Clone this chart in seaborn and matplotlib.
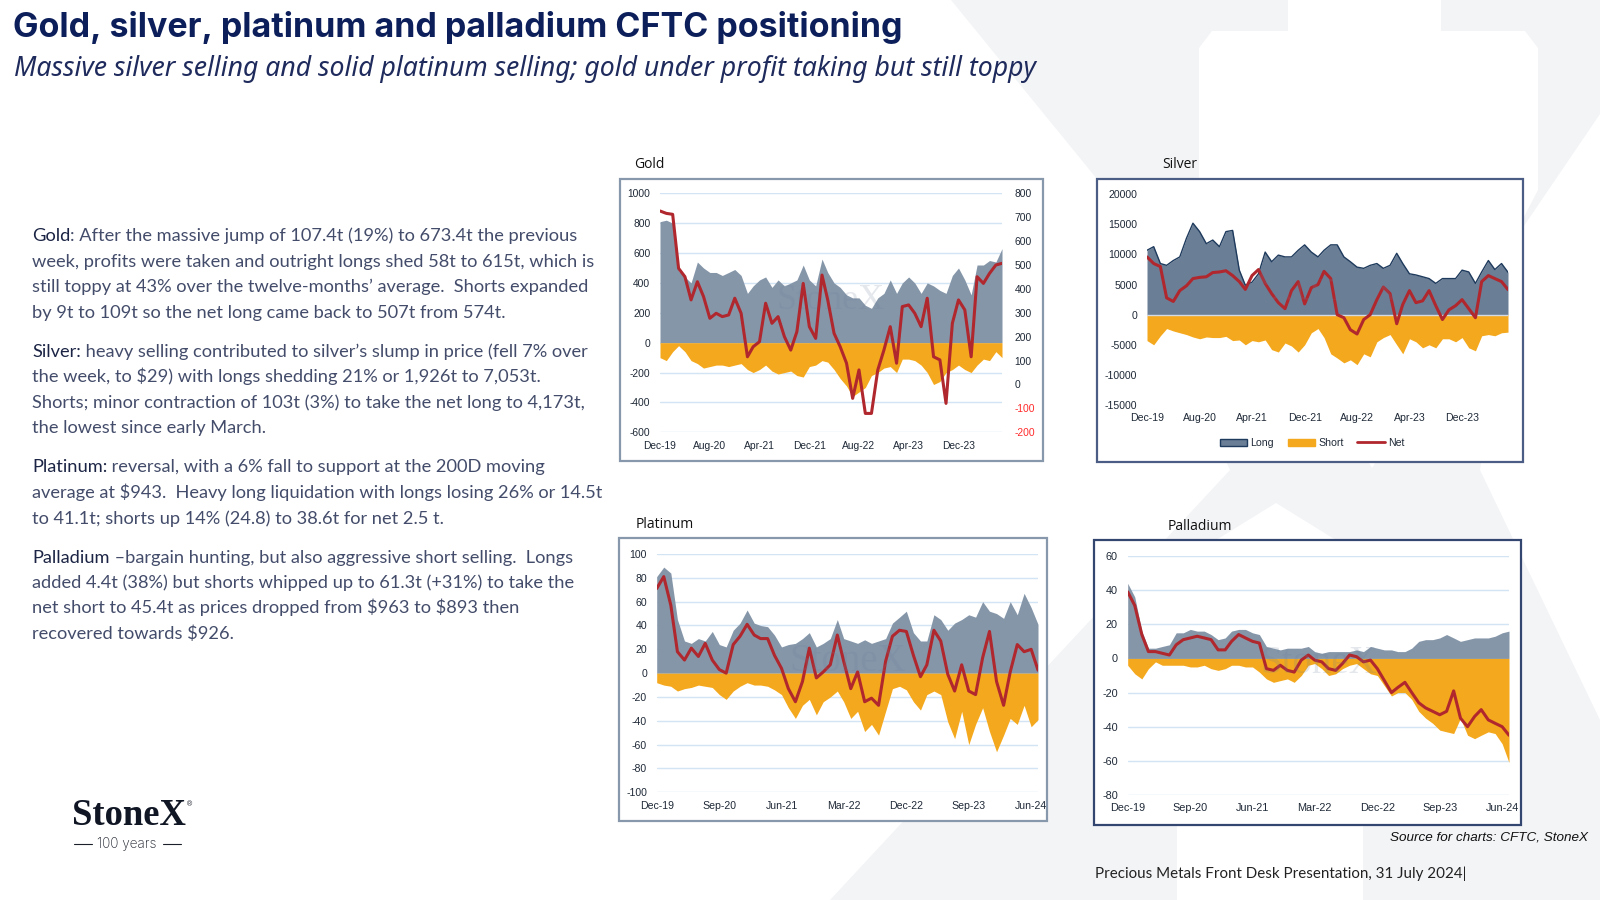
import numpy as np
import pandas as pd
import matplotlib
matplotlib.use("Agg")
import matplotlib.pyplot as plt
import seaborn as sns
from matplotlib.patches import Polygon, Rectangle, Patch
from matplotlib.lines import Line2D

# ---------------- data (monthly, Dec-19 .. Jul-24) ----------------
dates = pd.date_range("2019-12-01", periods=56, freq="MS")

gold_long = [810, 820, 800, 480, 440, 400, 540, 500, 470, 470,
             450, 470, 490, 450, 330, 380, 420, 440, 370, 420,
             380, 400, 420, 520, 420, 380, 560, 470, 400, 370,
             320, 300, 300, 250, 230, 300, 330, 420, 330, 400,
             440, 400, 330, 400, 380, 350, 330, 450, 500, 420,
             320, 520, 520, 550, 540, 630]
gold_short = [-100, -120, -60, -20, -60, -120, -140, -170, -160, -150,
              -150, -160, -150, -140, -180, -200, -180, -150, -190, -210,
              -200, -190, -220, -230, -160, -150, -120, -130, -180, -240,
              -290, -360, -330, -300, -220, -200, -170, -160, -200, -110,
              -110, -120, -150, -200, -280, -260, -200, -180, -150, -180,
              -200, -150, -110, -120, -60, -100]
gold_net = [726, 716, 712, 486, 451, 354, 430, 368, 277, 298,
            284, 291, 361, 298, 116, 158, 179, 340, 256, 284,
            200, 144, 221, 423, 242, 193, 458, 354, 214, 158,
            89, -58, 61, -121, -121, 61, 144, 242, 89, 326,
            333, 298, 242, 361, 116, 103, -79, 256, 354, 312,
            116, 451, 423, 465, 500, 507]

silver_long = [10700, 11300, 8500, 8200, 9000, 9600, 12700, 15200, 13800, 11800,
               12400, 11300, 13800, 14000, 7400, 4900, 5400, 6800, 10400, 8800,
               9900, 9600, 9600, 10700, 11600, 10400, 9600, 10700, 11600, 11600,
               9600, 8800, 7900, 7700, 8200, 8500, 7700, 8200, 10200, 8500,
               6800, 6600, 6300, 6000, 5200, 6000, 6000, 6000, 7400, 7100,
               5200, 7100, 9000, 7500, 8500, 7053]
silver_short = [-4300, -5000, -3500, -2300, -2700, -3000, -3300, -3700, -4000, -3700,
                -3800, -3800, -3600, -4300, -4200, -5000, -4300, -4500, -4200, -5800,
                -6200, -4700, -5200, -6200, -5000, -3000, -2300, -3800, -6500, -7200,
                -8000, -7500, -8300, -6500, -7000, -4500, -3800, -3300, -5000, -6500,
                -4000, -4500, -5500, -5000, -5500, -4000, -4000, -4500, -3800, -5500,
                -6000, -3500, -3300, -3500, -3000, -2900]
silver_net = [9600, 8500, 8000, 2800, 2200, 4000, 4800, 6000, 6200, 6300,
              7000, 7100, 7300, 6500, 5500, 4200, 6500, 7500, 5200, 3500,
              2000, 1000, 4000, 5500, 1800, 4500, 5000, 7200, 6000, 0,
              -500, -2500, -3200, -800, 0, 2500, 4600, 3500, -1500, 1700,
              4000, 2000, 2300, 4000, 1500, -800, 800, 1500, 2500, 1000,
              -500, 5500, 6500, 6000, 5500, 4173]

plat_long = [81, 89, 84, 45, 27, 25, 29, 27, 35, 24,
             22, 36, 42, 53, 42, 40, 39, 32, 22, 24,
             25, 29, 34, 22, 25, 29, 45, 29, 27, 25,
             28, 25, 27, 29, 42, 47, 52, 34, 27, 27,
             49, 45, 36, 42, 45, 49, 47, 60, 52, 50,
             46, 60, 49, 67, 55, 41]
plat_short = [-8, -10, -11, -15, -13, -12, -10, -11, -12, -18,
              -22, -15, -11, -8, -10, -10, -11, -14, -18, -29,
              -38, -27, -22, -35, -24, -20, -15, -24, -38, -32,
              -49, -43, -52, -32, -13, -11, -14, -24, -31, -18,
              -15, -18, -41, -55, -32, -60, -43, -29, -49, -66,
              -52, -38, -43, -27, -45, -39]
plat_net = [71, 81, 57, 18, 11, 21, 14, 25, 11, 3,
            0, 24, 31, 41, 32, 29, 29, 15, 4, -13,
            -24, -7, 21, -4, 1, 7, 32, 10, -13, 1,
            -24, -21, -27, 10, 31, 36, 35, 15, -3, 7,
            36, 27, -1, -15, 7, -15, -18, 13, 35, -7,
            -27, 1, 24, 18, 20, 2.5]

pall_long = [44, 36, 16, 6, 6, 7, 8, 15, 15, 17,
             16, 16, 14, 11, 12, 16, 17, 17, 15, 14,
             7, 6, 5, 6, 6, 6, 7, 4, 3, 4,
             4, 4, 4, 5, 4, 7, 6, 5, 5, 4,
             4, 6, 10, 11, 11, 12, 14, 12, 10, 11,
             12, 12, 12, 13, 15, 16]
pall_short = [-4, -9, -12, -6, -2, -4, -4, -4, -4, -5,
              -5, -4, -6, -7, -6, -4, -4, -5, -5, -8,
              -12, -14, -13, -12, -14, -10, -4, -3, -6, -10,
              -9, -6, -4, -3, -6, -9, -10, -16, -22, -20,
              -20, -24, -31, -35, -38, -42, -43, -44, -35, -45,
              -47, -45, -43, -44, -50, -61]
pall_net = [39, 31, 14, 4, 4, 3, 2, 8, 11, 12,
            13, 12, 11, 5, 5, 10, 14, 12, 10, 9,
            -6, -7, -4, -7, -8, -1, 2, -1, -2, -6,
            -7, -3, 2, 1, -2, -1, -6, -13, -20, -17,
            -14, -20, -26, -29, -31, -33, -31, -19, -35, -40,
            -34, -30, -36, -38, -40, -45]

legend_labels = ["Long", "Short", "Net"]

title = "Gold, silver, platinum and palladium CFTC positioning"
subtitle = "Massive silver selling and solid platinum selling; gold under profit taking but still toppy"

paragraphs = [
    ("Gold", [": After the massive jump of 107.4t (19%) to 673.4t the previous",
              "week, profits were taken and outright longs shed 58t to 615t, which is",
              "still toppy at 43% over the twelve-months\u2019 average.  Shorts expanded",
              "by 9t to 109t so the net long came back to 507t from 574t."]),
    ("Silver:", [" heavy selling contributed to silver\u2019s slump in price (fell 7% over",
                 "the week, to $29) with longs shedding 21% or 1,926t to 7,053t.",
                 "Shorts; minor contraction of 103t (3%) to take the net long to 4,173t,",
                 "the lowest since early March."]),
    ("Platinum:", [" reversal, with a 6% fall to support at the 200D moving",
                   "average at $943.  Heavy long liquidation with longs losing 26% or 14.5t",
                   "to 41.1t; shorts up 14% (24.8) to 38.6t for net 2.5 t."]),
    ("Palladium", [" \u2013bargain hunting, but also aggressive short selling.  Longs",
                   "added 4.4t (38%) but shorts whipped up to 61.3t (+31%) to take the",
                   "net short to 45.4t as prices dropped from $963 to $893 then",
                   "recovered towards $926."]),
]

# ---------------- styling ----------------
sns.set_theme(style="white")
plt.rcParams["font.family"] = ["Liberation Sans", "DejaVu Sans"]

W, H = 1600, 900
fig = plt.figure(figsize=(16, 9), dpi=100)
fig.patch.set_facecolor("white")
renderer = fig.canvas.get_renderer()

C_LONG = "#8596a9"
C_LONG_S = "#6a7e96"
C_LONG_EDGE = "#1e3a5c"
C_SHORT = "#f4a81d"
C_NET = "#b0272d"
C_GRID = "#d3e5f4"
C_TICK = "#1f2937"
C_BG = "#f3f4f6"


def fx(x):
    return x / W


def fy(y):
    return 1 - y / H


def fax(l, t, r, b):
    return fig.add_axes([fx(l), fy(b), (r - l) / W, (b - t) / H])


def fit(txt, target):
    w = txt.get_window_extent(renderer).width
    txt.set_fontsize(txt.get_fontsize() * target / w)
    return txt


def poly(points, color, z):
    fig.add_artist(Polygon([(fx(a), fy(b)) for a, b in points], closed=True,
                           transform=fig.transFigure, facecolor=color,
                           edgecolor="none", zorder=z))


# background X watermark (grey arms with white gaps)
poly([(951, 0), (1600, 0), (1600, 900), (830, 900), (1230, 470), (1097, 179)], C_BG, -6)
poly([(1199, 48), (1212, 31), (1288, 31), (1288, 0), (1441, 0), (1441, 31),
      (1525, 31), (1538, 48), (1538, 190), (1470, 320), (1372, 468),
      (1290, 330), (1199, 190)], "white", -5)
poly([(1600, 114), (1509, 248), (1480, 470), (1600, 720)], "white", -5)
poly([(1276, 503), (1344, 545), (1363, 600), (1363, 900), (1177, 900),
      (1177, 600), (1208, 545)], "white", -5)

# chart frames
frames = [((620, 179, 1043, 461), "#8798ad"), ((1097, 179, 1523, 462), "#4b5d85"),
          ((619, 538, 1047, 821), "#8798ad"), ((1094, 540, 1521, 825), "#33466f")]
for (l, t, r, b), ec in frames:
    fig.add_artist(Rectangle((fx(l), fy(b)), (r - l) / W, (b - t) / H,
                             transform=fig.transFigure, facecolor="white",
                             edgecolor=ec, lw=1.6, zorder=-1))

chart_titles = [("Gold", 634, 165), ("Silver", 1162, 165),
                ("Platinum", 636, 525), ("Palladium", 1168, 526)]
for name, x, y in chart_titles:
    fig.text(fx(x), fy(y), name, ha="left", va="center", fontsize=10,
             color="#111111", family=["Open Sans", "DejaVu Sans"])


def style_axes(ax, ylim, yticks, xidx, fsize, grid=True):
    ax.set_facecolor("none")
    ax.set_xlim(dates[0], dates[-1])
    ax.set_ylim(*ylim)
    ax.set_yticks(yticks)
    ax.set_yticklabels([str(v) for v in yticks])
    ax.set_xticks([dates[i] for i in xidx])
    ax.set_xticklabels([dates[i].strftime("%b-%y") for i in xidx])
    for s in ax.spines.values():
        s.set_visible(False)
    ax.tick_params(axis="both", length=0, labelsize=fsize, colors=C_TICK)
    ax.tick_params(axis="y", pad=7)
    ax.tick_params(axis="x", pad=6)
    if grid:
        ax.yaxis.grid(True, color=C_GRID, lw=1.0)
        ax.set_axisbelow(True)
    ax.set_xlabel("")
    ax.set_ylabel("")


def draw_panel(ax, long, short, net, long_color, net_ax=None, edge=None):
    ax.fill_between(dates, 0, long, color=long_color, lw=0, zorder=2)
    ax.fill_between(dates, 0, short, color=C_SHORT, lw=0, zorder=2)
    if edge:
        sns.lineplot(x=dates, y=long, ax=ax, color=edge, lw=1.0, zorder=3)
    target = net_ax if net_ax is not None else ax
    sns.lineplot(x=dates, y=net, ax=target, color=C_NET, lw=2.2, zorder=4)


def watermark(ax, size):
    ax.text(0.5, 0.55, "StoneX", transform=ax.transAxes, ha="center", va="center",
            fontsize=size, color="#6b7f97", alpha=0.18,
            family=["Liberation Serif", "DejaVu Serif"], zorder=5)


idx8 = [0, 8, 16, 24, 32, 40, 48]
idx9 = [0, 9, 18, 27, 36, 45, 54]

# ---- Gold ----
ax = fax(660, 193.3, 1002, 432.3)
ax2 = ax.twinx()
draw_panel(ax, gold_long, gold_short, gold_net, C_LONG, net_ax=ax2)
style_axes(ax, (-600, 1000), list(range(1000, -601, -200)), idx8, 7.4)
ax2.set_ylim(-200, 800)
rt = list(range(800, -201, -100))
ax2.set_yticks(rt)
ax2.set_yticklabels([str(v) for v in rt])
for s in ax2.spines.values():
    s.set_visible(False)
ax2.tick_params(axis="y", length=0, labelsize=7.4, colors=C_TICK, pad=9)
for lab, v in zip(ax2.get_yticklabels(), rt):
    if v < 0:
        lab.set_color("#ff2a2a")
ax2.set_ylabel("")
ax2.grid(False)
watermark(ax, 26)

# ---- Silver ----
ax = fax(1147, 194.3, 1508, 405)
draw_panel(ax, silver_long, silver_short, silver_net, C_LONG_S, edge=C_LONG_EDGE)
style_axes(ax, (-15000, 20000), list(range(20000, -15001, -5000)), idx8, 7.6, grid=False)
ax.axhline(0, color="#d5dbe3", lw=1.0, zorder=3)
watermark(ax, 34)
handles = [Patch(facecolor=C_LONG_S, edgecolor=C_LONG_EDGE, lw=1.0),
           Patch(facecolor=C_SHORT, edgecolor=C_SHORT),
           Line2D([0], [0], color=C_NET, lw=2.0)]
fig.legend(handles, legend_labels, loc="center", bbox_to_anchor=(fx(1312), fy(443)),
           ncol=3, frameon=False, fontsize=7.6, handlelength=2.6, handleheight=0.6,
           columnspacing=1.3, handletextpad=0.3, labelcolor=C_TICK)

# ---- Platinum ----
ax = fax(656.7, 554, 1038, 792.3)
draw_panel(ax, plat_long, plat_short, plat_net, C_LONG)
style_axes(ax, (-100, 100), list(range(100, -101, -20)), idx9, 7.6)
watermark(ax, 28)

# ---- Palladium ----
ax = fax(1127.7, 556, 1509, 795)
draw_panel(ax, pall_long, pall_short, pall_net, C_LONG)
style_axes(ax, (-80, 60), list(range(60, -81, -20)), idx9, 7.8)
watermark(ax, 28)

# ---------------- slide text ----------------
t = fig.text(fx(13), fy(37), title, ha="left", va="baseline", fontsize=26,
             fontweight="bold", color="#0c1f5b", family=["Inter", "DejaVu Sans"])
fit(t, 889)
t = fig.text(fx(14), fy(76), subtitle, ha="left", va="baseline", fontsize=18,
             style="italic", fontweight=300, color="#1f2b5c",
             family=["Noto Sans", "DejaVu Sans"])
fit(t, 1025)

# body paragraphs
body_family = ["Lato", "DejaVu Sans"]
probe = fig.text(0, 0, paragraphs[0][1][1], fontsize=12, family=body_family)
fs = 12 * 560 / probe.get_window_extent(renderer).width
probe.remove()

line_y = [[236, 261.7, 287.3, 312.7], [351.7, 376.7, 402.7, 428.3],
          [467.3, 493.3, 519.3], [558.3, 583.3, 608.3, 634]]
x0 = 32
for (kw, lines), ys in zip(paragraphs, line_y):
    for i, (ln, y) in enumerate(zip(lines, ys)):
        yb = fy(y + 5)
        if i == 0:
            k = fig.text(fx(x0), yb, kw, ha="left", va="baseline", fontsize=fs,
                         color="#1b2444", family=body_family, parse_math=False)
            kw_w = k.get_window_extent(renderer).width
            fig.text(fx(x0 + kw_w), yb, ln, ha="left", va="baseline", fontsize=fs,
                     color="#434c6a", family=body_family, parse_math=False)
        else:
            fig.text(fx(x0), yb, ln, ha="left", va="baseline", fontsize=fs,
                     color="#434c6a", family=body_family, parse_math=False)

# logo
t = fig.text(fx(72), fy(825), "StoneX", ha="left", va="baseline", fontsize=26,
             fontweight="bold", color="#101624",
             family=["Liberation Serif", "DejaVu Serif"])
fit(t, 114)
fig.text(fx(187), fy(806), "\u00ae", ha="left", va="baseline", fontsize=5, color="#101624")
t = fig.text(fx(127), fy(844), "100 years", ha="center", va="center", fontsize=10,
             color="#1b1f2a", family=["Inter", "DejaVu Sans"], fontweight="light")
fit(t, 60)
for xa, xb in [(74, 92), (163, 181)]:
    fig.add_artist(Line2D([fx(xa), fx(xb)], [fy(844), fy(844)], transform=fig.transFigure,
                          color="#1b1f2a", lw=0.8))

# source + footer
t = fig.text(fx(1588), fy(840), "Source for charts: CFTC, StoneX", ha="right",
             va="baseline", fontsize=10, style="italic", color="#111111",
             family=["Liberation Sans", "DejaVu Sans"])
fit(t, 198)
t = fig.text(fx(1095), fy(878), "Precious Metals Front Desk Presentation, 31 July 2024|",
             ha="left", va="baseline", fontsize=11.5, color="#222222",
             family=body_family)
fit(t, 371)

fig.savefig("out.png", dpi=100, facecolor="white")
